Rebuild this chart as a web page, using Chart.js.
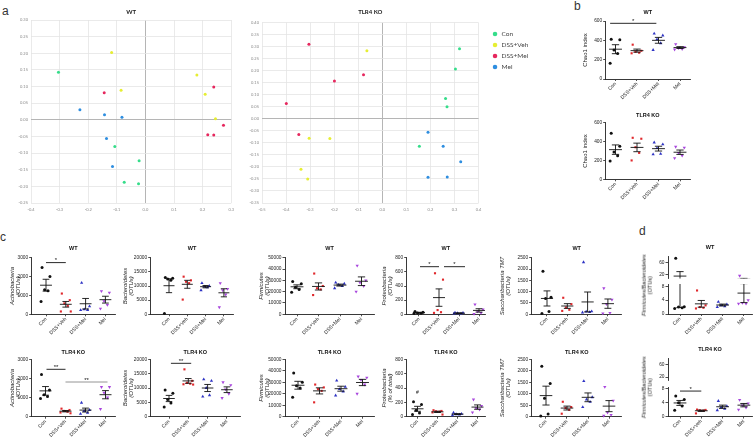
<!DOCTYPE html>
<html>
<head>
<meta charset="utf-8">
<script src="https://cdn.jsdelivr.net/npm/chart.js@4.4.1/dist/chart.umd.min.js"></script>
<style>
html,body{margin:0;padding:0;background:#ffffff;}
body{width:756px;height:441px;position:relative;overflow:hidden;font-family:"Liberation Sans",Arial,sans-serif;}
canvas{position:absolute;}
.pl{position:absolute;font-size:12px;line-height:12px;color:#333;}
.yt{position:absolute;white-space:nowrap;text-align:center;font-size:5.6px;line-height:6.3px;color:#222;transform:rotate(-90deg);transform-origin:50% 50%;}
</style>
</head>
<body>
<div class="pl" style="left:2px;top:5px">a</div>
<div class="pl" style="left:574px;top:0px">b</div>
<div class="pl" style="left:0px;top:231px">c</div>
<div class="pl" style="left:639px;top:225px">d</div>
<script>
// ================= DATA =================
const groupNames = ['Con', 'DSS+Veh', 'DSS+Mel', 'Mel'];

// Panel a: PCoA coordinates [PC1, PC2]
const wtConPC  = [[-0.304, 0.143], [-0.107, -0.080], [-0.022, -0.123], [-0.074, -0.188], [-0.024, -0.192]];
const wtVehPC  = [[-0.118, 0.202], [-0.085, 0.089], [0.180, 0.135], [0.209, 0.077], [0.245, 0.003]];
const wtDMelPC = [[-0.144, 0.081], [0.239, 0.099], [0.273, -0.016], [0.218, -0.045], [0.239, -0.046]];
const wtMelPC  = [[-0.229, 0.030], [-0.143, 0.015], [-0.082, 0.008], [-0.136, -0.056], [-0.115, -0.140]];
const koConPC  = [[0.321, 0.292], [0.304, 0.207], [0.263, 0.085], [0.269, 0.050], [0.154, -0.114]];
const koVehPC  = [[-0.064, 0.283], [-0.304, -0.081], [-0.218, -0.082], [-0.338, -0.210], [-0.310, -0.250]];
const koDMelPC = [[-0.305, 0.310], [-0.199, 0.158], [-0.078, 0.183], [-0.399, 0.064], [-0.347, -0.065]];
const koMelPC  = [[0.190, -0.056], [0.253, -0.114], [0.326, -0.178], [0.190, -0.243], [0.270, -0.242]];
const wtPcXTicks = [-0.4, -0.3, -0.2, -0.1, 0, 0.1, 0.2, 0.3];
const wtPcYTicks = [-0.25, -0.2, -0.15, -0.1, -0.05, 0, 0.05, 0.1, 0.15, 0.2, 0.25, 0.3];
const koPcXTicks = [-0.5, -0.4, -0.3, -0.2, -0.1, 0, 0.1, 0.2, 0.3, 0.4];
const koPcYTicks = [-0.35, -0.3, -0.25, -0.2, -0.15, -0.1, -0.05, 0, 0.05, 0.1, 0.15, 0.2, 0.25, 0.3, 0.35, 0.4];

// Panel b: Chao1 index (per group: Con, DSS+Veh, DSS+Mel, Mel)
const chaoWT = [[410, 405, 300, 265, 162], [355, 292, 282, 272, 266], [470, 450, 410, 370, 300], [360, 330, 320, 310, 305]];
const chaoKO = [[487, 350, 290, 250, 195], [440, 430, 340, 280, 200], [390, 370, 330, 270, 265], [345, 335, 280, 250, 225]];
const chaoTicks = [0, 200, 400, 600];

// Panel c: OTUs per phylum
const actinoWT = [[2480, 2000, 1300, 1250, 680], [1100, 750, 580, 450, 150, 150], [1670, 420, 260, 230, 220], [1230, 1150, 700, 500, 300]];
const bacteWT  = [[13000, 12700, 12500, 12000, 300], [13300, 12000, 11500, 11000, 5200], [11000, 10000, 9800, 9500, 8500], [11000, 9000, 8500, 7000, 2500]];
const firmWT   = [[29000, 27000, 24000, 22000, 19500], [36000, 25000, 23000, 22000, 17000], [28000, 27000, 26000, 25000, 23000], [43000, 30000, 28000, 25000, 20000]];
const proteoWT = [[40, 30, 20, 15, 10], [580, 490, 60, 30, 20], [25, 20, 15, 10, 10], [140, 70, 40, 20, 5]];
const tm7WT    = [[1900, 750, 700, 120, 30], [730, 450, 300, 200, 150], [2300, 130, 120, 100, 80], [1150, 650, 450, 60, 40]];
const actinoKO = [[2200, 1400, 1150, 1050, 950], [420, 350, 300, 260, 220, 180], [730, 350, 300, 200, 150], [1550, 1550, 1250, 1000, 400]];
const bacteKO  = [[9300, 8200, 6000, 4800, 3400], [16500, 12500, 11800, 11500, 11300, 11200], [13000, 12500, 10000, 7500, 7000], [12000, 11000, 9500, 8000, 6500]];
const firmKO   = [[38000, 30000, 27000, 25000, 17000], [28000, 25500, 24000, 22500, 12500], [31500, 26000, 24000, 22000, 18500], [35000, 34000, 32000, 28000, 20000]];
const proteoKO = [[210, 170, 90, 50, 30], [90, 80, 75, 70, 60, 30], [55, 40, 35, 30, 20], [240, 150, 120, 100, 60]];
const tm7KO    = [[2200, 1450, 800, 116, 30], [650, 420, 380, 300, 130], [1550, 850, 750, 650, 420], [1300, 700, 180, 80, 40]];
const actinoTicks = [0, 1000, 2000, 3000];
const bacteTicks  = [0, 5000, 10000, 15000, 20000];
const firmTicks   = [0, 10000, 20000, 30000, 40000, 50000];
const proteoTicks = [0, 200, 400, 600, 800];
const tm7Ticks    = [0, 500, 1000, 1500, 2000, 2500];

// Panel d: Firmicutes/Bacteroidetes ratio
const fbWT = [[73, 2.1, 2.0, 1.8, 1.6], [6.8, 2.5, 2.0, 1.8, 1.6], [3.5, 2.8, 2.5, 2.2, 2.0], [17, 4, 3.2, 3, 3]];
const fbKO = [[5.9, 4.9, 4.0, 3.0, 1.8], [2.0, 1.9, 1.8, 1.7, 0.9], [4.5, 3.0, 2.6, 2.2, 1.8], [4.8, 3.8, 3.2, 2.6, 2.0]];
const fbHighTicks = [20, 40, 60, 80];
const fbLowTicks  = [0, 2, 4, 6, 8];

// ================= STYLE =================
const LATO = 'Lato, "Open Sans", sans-serif';
const ARIAL = '"Liberation Sans", Arial, sans-serif';
const pcoaColors = ['#35dd8a', '#e6ee33', '#e6275e', '#2e8ee0'];
const dotColors = ['#111111', '#e0282c', '#2e33c4', '#a846dd'];
const dotStyles = ['circle', 'rect', 'triangle', 'triangle'];
const dotRot = [0, 0, 0, 180];
const dotRad = [1.5, 1.5, 1.9, 1.9];
const jit = [-0.2, 0.2, -0.07, 0.1, -0.25, 0.25];
Chart.defaults.font.family = ARIAL;

function makeCanvas(L, T, W, H) {
  const c = document.createElement('canvas');
  c.width = W; c.height = H;
  Object.assign(c.style, {left: L + 'px', top: T + 'px', width: W + 'px', height: H + 'px'});
  document.body.appendChild(c);
  return c;
}

const isZero = v => Math.abs(v) < 1e-9;

function pcoaChart(o) {
  const tS = 6, xH = 12, T = 0, L = o.L;
  const pt = o.titleY - tS / 2 - T;
  const B = o.top - o.titleY - tS / 2;
  const yW = o.left - L;
  const H = Math.ceil(o.bottom + xH + 1 - T);
  const pb = H - (o.bottom - T) - xH;
  const extra = o.legend ? (o.gapW + 80) : 0;
  const W = Math.ceil(o.right - L + extra + o.prMin);
  const pr = W - (o.right - L) - extra;
  const c = makeCanvas(L, T, W, H);
  const scales = {
    x: {type: 'linear', min: o.xt[0], max: o.xt[o.xt.length - 1],
      afterBuildTicks: s => { s.ticks = o.xt.map(v => ({value: v})); },
      afterFit: s => { s.height = xH; },
      ticks: {font: {size: 4, family: LATO}, color: '#8a8a8a', padding: 4, callback: v => v.toFixed(1)},
      grid: {color: g => isZero(g.tick.value) ? '#b5b5b5' : '#e4e4e4', lineWidth: g => isZero(g.tick.value) ? 1 : 0.8, drawTicks: false},
      border: {display: false}},
    y: {type: 'linear', min: o.yt[0], max: o.yt[o.yt.length - 1],
      afterBuildTicks: s => { s.ticks = o.yt.map(v => ({value: v})); },
      afterFit: s => { s.width = yW; },
      ticks: {font: {size: 4, family: LATO}, color: '#8a8a8a', padding: 3, callback: v => v.toFixed(2)},
      grid: {color: g => isZero(g.tick.value) ? '#b5b5b5' : '#e4e4e4', lineWidth: g => isZero(g.tick.value) ? 1 : 0.8, drawTicks: false},
      border: {display: false}}
  };
  if (o.legend) {
    scales.gap = {type: 'linear', axis: 'y', position: 'right', display: true,
      ticks: {display: false}, grid: {display: false}, border: {display: false},
      afterFit: s => { s.width = o.gapW; }};
  }
  const datasets = o.sets.map((pts, i) => ({
    label: groupNames[i],
    data: pts.map(p => ({x: p[0], y: p[1]})),
    backgroundColor: pcoaColors[i], borderColor: pcoaColors[i],
    pointBackgroundColor: pcoaColors[i], pointBorderWidth: 0, borderWidth: 0,
    pointRadius: 1.5, pointStyle: 'circle'
  }));
  const ch = new Chart(c, {
    type: 'scatter',
    data: {datasets},
    options: {
      responsive: false, animation: false, devicePixelRatio: 1, events: [],
      layout: {padding: {left: 0, right: pr, top: pt, bottom: pb}},
      scales,
      plugins: {
        tooltip: {enabled: false},
        title: {display: true, text: o.title, fullSize: false, color: '#222',
          font: {size: tS, weight: 'bold', family: LATO, lineHeight: 1}, padding: {top: 0, bottom: B}},
        legend: o.legend ? {display: true, position: 'right', align: 'start', fullSize: false,
          title: {display: true, text: '', font: {size: 3.55, lineHeight: 1}, padding: 0},
          labels: {usePointStyle: true, pointStyle: 'circle', boxWidth: 6.5, boxHeight: 3.2, padding: 4.5,
            color: '#444', font: {size: 6.5, family: LATO}}} : {display: false}
      }
    }
  });
  if (o.legend) {
    const d = ch.chartArea.right - (o.right - L);
    if (Math.abs(d) > 0.01) {
      ch.options.layout.padding = {left: 0, right: Math.max(0, pr + d), top: pt, bottom: pb};
      ch.update();
    }
  }
}

function statsPlugin(cfg) {
  return {
    id: 'stats',
    afterDatasetsDraw(chart) {
      const {ctx, chartArea: a, scales: {x, y}} = chart;
      const px = v => y.getPixelForValue(v);
      const seg = (x1, y1, x2, y2) => { ctx.beginPath(); ctx.moveTo(x1, y1); ctx.lineTo(x2, y2); ctx.stroke(); };
      ctx.save();
      ctx.beginPath(); ctx.rect(a.left - 30, a.top - 0.5, a.width + 60, a.height + 1); ctx.clip();
      ctx.strokeStyle = '#111'; ctx.lineWidth = 0.9;
      cfg.groups.forEach((vals, i) => {
        const n = vals.length;
        const m = vals.reduce((s, v) => s + v, 0) / n;
        const sd = Math.sqrt(vals.reduce((s, v) => s + (v - m) * (v - m), 0) / (n - 1));
        const se = sd / Math.sqrt(n);
        const cx = x.getPixelForValue(i);
        const hw = x.getPixelForValue(i + 0.3) - cx;
        const cw = x.getPixelForValue(i + 0.17) - cx;
        seg(cx - hw, px(m), cx + hw, px(m));
        seg(cx - cw, px(m + se), cx + cw, px(m + se));
        seg(cx - cw, px(m - se), cx + cw, px(m - se));
        seg(cx, px(m - se), cx, px(m + se));
      });
      ctx.restore();
      ctx.save();
      ctx.font = '6px ' + ARIAL; ctx.textAlign = 'center'; ctx.textBaseline = 'alphabetic'; ctx.fillStyle = '#111';
      (cfg.sig || []).forEach(s => {
        const yy = px(s.v), x1 = x.getPixelForValue(s.a), x2 = x.getPixelForValue(s.b);
        ctx.strokeStyle = s.c || '#111'; ctx.lineWidth = 0.9;
        seg(x1, yy, x2, yy);
        ctx.fillText(s.t, (x1 + x2) / 2, yy - 0.3);
      });
      (cfg.marks || []).forEach(mk => {
        ctx.font = '5px ' + ARIAL; ctx.textBaseline = 'middle';
        ctx.fillText(mk.t, x.getPixelForValue(mk.i), px(mk.v));
      });
      ctx.restore();
    }
  };
}

function dotChart(o) {
  const tS = 5.5, xH = o.xH || 24;
  const hasT = !!o.title;
  const T = hasT ? Math.floor(o.titleY - tS / 2 - 1) : Math.floor(o.top - 5);
  const pt = hasT ? (o.titleY - tS / 2 - T) : (o.top - T);
  const B = hasT ? (o.top - o.titleY - tS / 2) : 0;
  const L = Math.floor(o.axisX - o.yW);
  const pl = o.axisX - o.yW - L;
  const showX = o.showX !== false;
  const xh = showX ? xH : 0;
  const H = Math.ceil(o.bottom - T + xh + 2);
  const pb = H - (o.bottom - T) - xh;
  const W = Math.ceil(o.right - L + 4);
  const pr = W - (o.right - L);
  const c = makeCanvas(L, T, W, H);
  const xmin = (o.axisX - o.con) / o.dx, xmax = (o.right - o.con) / o.dx;
  const keep = o.keep || (() => true);
  const datasets = o.groups.map((vals, gi) => ({
    label: groupNames[gi],
    data: vals.map((v, j) => ({x: gi + jit[j % jit.length], y: v})).filter(p => keep(p.y)),
    pointStyle: dotStyles[gi], pointRotation: dotRot[gi], pointRadius: dotRad[gi],
    backgroundColor: dotColors[gi], borderColor: dotColors[gi], pointBackgroundColor: dotColors[gi],
    pointBorderWidth: 0, borderWidth: 0, clip: false
  }));
  new Chart(c, {
    type: 'scatter',
    data: {datasets},
    plugins: [statsPlugin({groups: o.groups, sig: o.sig, marks: o.marks})],
    options: {
      responsive: false, animation: false, devicePixelRatio: 1, events: [],
      layout: {padding: {left: pl, right: pr, top: pt, bottom: pb}},
      scales: {
        x: {type: 'linear', min: xmin, max: xmax, display: showX,
          afterBuildTicks: s => { s.ticks = groupNames.map((_, i) => ({value: i})); },
          afterFit: s => { s.height = xh; },
          ticks: {font: {size: 5, family: ARIAL}, color: '#222', minRotation: 45, maxRotation: 45, padding: 0, autoSkip: false,
            callback: v => groupNames[v]},
          grid: {display: true, drawOnChartArea: false, drawTicks: true, tickLength: 2, color: '#222', lineWidth: 0.8},
          border: {display: true, color: '#222', width: 0.9}},
        y: {type: 'linear', min: o.min, max: o.max,
          afterBuildTicks: s => { s.ticks = o.ticks.map(v => ({value: v})); },
          afterFit: s => { s.width = o.yW; },
          ticks: {font: {size: 4.8, family: ARIAL}, color: '#222', padding: 1, callback: v => String(v)},
          grid: {display: true, drawOnChartArea: false, drawTicks: true, tickLength: 2.5, color: '#222', lineWidth: 0.8},
          border: {display: true, color: '#222', width: 0.9},
          title: {display: !!o.ytitle, text: o.ytitle || '', color: '#222', padding: 0,
            font: {size: 6, family: ARIAL, style: o.upright ? 'normal' : 'italic', lineHeight: 1.05}}}
      },
      plugins: {
        tooltip: {enabled: false},
        legend: {display: false},
        title: {display: hasT, text: o.title || '', fullSize: false, color: '#111',
          font: {size: tS, weight: 'bold', family: ARIAL, lineHeight: 1}, padding: {top: 0, bottom: B}}
      }
    }
  });
}

function brokenChart(o) {
  dotChart({axisX: o.axisX, right: o.right, con: o.con, dx: o.dx, yW: o.yW, top: o.top1, bottom: o.bot1,
    titleY: o.titleY, title: o.title, groups: o.groups, ticks: fbHighTicks, min: 10, max: 80,
    showX: false, keep: v => v > 9});
  dotChart({axisX: o.axisX, right: o.right, con: o.con, dx: o.dx, yW: o.yW, top: o.top2, bottom: o.bot2,
    groups: o.groups, ticks: fbLowTicks, min: 0, max: 8.5, keep: v => v <= 9, sig: o.sig, xH: 24});
  const d = document.createElement('div');
  d.className = 'yt';
  d.innerHTML = '<i>Firmicutes/Bacteroidetes</i><br>(OTUs)';
  Object.assign(d.style, {width: '80px', height: '12.6px', left: (o.ytX - 40) + 'px', top: (o.ytY - 6.3) + 'px'});
  document.body.appendChild(d);
}

// ================= PANEL a =================
pcoaChart({L: 0, left: 31, right: 232, top: 20, bottom: 203, titleY: 12.3, title: 'WT',
  xt: wtPcXTicks, yt: wtPcYTicks, sets: [wtConPC, wtVehPC, wtDMelPC, wtMelPC], prMin: 6});
pcoaChart({L: 240, left: 262, right: 477, top: 22.7, bottom: 203, titleY: 12.3, title: 'TLR4 KO',
  xt: koPcXTicks, yt: koPcYTicks, sets: [koConPC, koVehPC, koDMelPC, koMelPC], prMin: 0,
  legend: true, gapW: 8.75});

// ================= PANEL b =================
dotChart({axisX: 605.7, right: 690, con: 615.5, dx: 21.5, yW: 23.85, top: 21, bottom: 79, titleY: 12.7, title: 'WT',
  groups: chaoWT, ticks: chaoTicks, min: 0, max: 600, ytitle: 'Chao1 index', upright: true, xH: 30,
  sig: [{a: -0.25, b: 1.9, v: 576, t: '*'}]});
dotChart({axisX: 605.7, right: 690, con: 615.5, dx: 21.5, yW: 23.85, top: 122.7, bottom: 179.3, titleY: 115, title: 'TLR4 KO',
  groups: chaoKO, ticks: chaoTicks, min: 0, max: 600, ytitle: 'Chao1 index', upright: true, xH: 30});

// ================= PANEL c =================
const row1 = {top: 257.7, bottom: 314.3, titleY: 248, title: 'WT'};
const row2 = {top: 359.3, bottom: 416.7, titleY: 352, title: 'TLR4 KO'};
dotChart(Object.assign({axisX: 31.7, right: 115, con: 46, dx: 19.8, yW: 22.65, groups: actinoWT, ticks: actinoTicks, min: 0, max: 3000,
  ytitle: ['Actinobacteria', '(OTUs)'], sig: [{a: 0, b: 1, v: 2740, t: '*'}]}, row1));
dotChart(Object.assign({axisX: 150.7, right: 233.3, con: 169, dx: 18.3, yW: 28.85, groups: bacteWT, ticks: bacteTicks, min: 0, max: 20000,
  ytitle: ['Bacteroidetes', '(OTUs)']}, row1));
dotChart(Object.assign({axisX: 285, right: 374, con: 297, dx: 21.5, yW: 27.15, groups: firmWT, ticks: firmTicks, min: 0, max: 50000,
  ytitle: ['Firmicutes', '(OTUs)']}, row1));
dotChart(Object.assign({axisX: 406.7, right: 485, con: 419, dx: 20, yW: 25.85, groups: proteoWT, ticks: proteoTicks, min: 0, max: 800,
  ytitle: ['Proteobacteria', '(OTUs)'], sig: [{a: 0.05, b: 1, v: 673, t: '*'}, {a: 1.25, b: 2.3, v: 673, t: '*'}]}, row1));
dotChart(Object.assign({axisX: 531.7, right: 621.7, con: 547, dx: 20.3, yW: 32.35, groups: tm7WT, ticks: tm7Ticks, min: 0, max: 2500,
  ytitle: ['Saccharibacteria TM7', '(OTUs)']}, row1));

dotChart(Object.assign({axisX: 31.7, right: 115, con: 45.5, dx: 20, yW: 22.65, groups: actinoKO, ticks: actinoTicks, min: 0, max: 3000,
  ytitle: ['Actinobacteria', '(OTUs)'],
  sig: [{a: 0.05, b: 1, v: 2477, t: '**'}, {a: 1, b: 3.1, v: 1813, t: '**', c: '#888'}]}, row2));
dotChart(Object.assign({axisX: 150.7, right: 240, con: 169, dx: 19.3, yW: 28.85, groups: bacteKO, ticks: bacteTicks, min: 0, max: 20000,
  ytitle: ['Bacteroidetes', '(OTUs)'], sig: [{a: 0.1, b: 1.15, v: 18600, t: '**'}]}, row2));
dotChart(Object.assign({axisX: 285, right: 374, con: 298, dx: 21.5, yW: 27.15, groups: firmKO, ticks: firmTicks, min: 0, max: 50000,
  ytitle: ['Firmicutes', '(OTUs)']}, row2));
dotChart(Object.assign({axisX: 406.7, right: 485, con: 417.5, dx: 20, yW: 25.85, groups: proteoKO, ticks: proteoTicks, min: 0, max: 800,
  ytitle: ['Proteobacteria', '(% of total)'], marks: [{i: 0, v: 330, t: '#'}]}, row2));
dotChart(Object.assign({axisX: 531.7, right: 621.7, con: 546, dx: 21, yW: 32.35, groups: tm7KO, ticks: tm7Ticks, min: 0, max: 2500,
  ytitle: ['Saccharibacteria TM7', '(OTUs)']}, row2));

// ================= PANEL d =================
brokenChart({axisX: 668, right: 752, con: 680, dx: 21.3, yW: 27, top1: 256, bot1: 279.3, top2: 284.6, bot2: 314,
  titleY: 247, title: 'WT', groups: fbWT, ytX: 647.3, ytY: 285});
brokenChart({axisX: 668, right: 752, con: 680, dx: 21.3, yW: 27, top1: 358.5, bot1: 381.8, top2: 387.1, bot2: 416.5,
  titleY: 349, title: 'TLR4 KO', groups: fbKO, ytX: 647.3, ytY: 387.5, sig: [{a: 0, b: 1, v: 7.35, t: '*'}]});
</script>
</body>
</html>
